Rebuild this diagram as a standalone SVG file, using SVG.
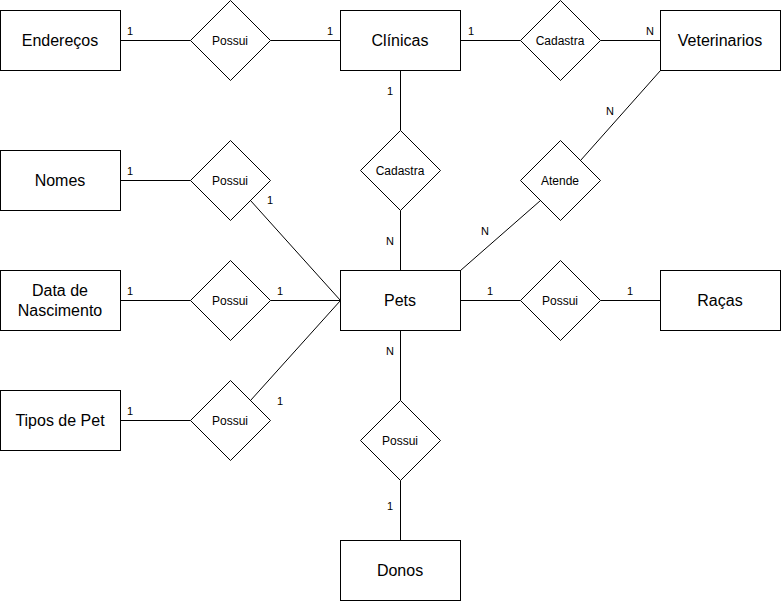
<svg xmlns="http://www.w3.org/2000/svg" width="781" height="601" viewBox="0 0 781 601">
<style>
.ent{fill:#fff;stroke:#000;stroke-width:1}
.rel{fill:#fff;stroke:#000;stroke-width:1}
.c{fill:none;stroke:#000;stroke-width:1}
.et{font-family:"Liberation Sans",Arial,sans-serif;font-size:16px;fill:#000;text-anchor:middle;dominant-baseline:central}
.rt{font-family:"Liberation Sans",Arial,sans-serif;font-size:12px;fill:#000;text-anchor:middle;dominant-baseline:central}
.lb{font-family:"Liberation Sans",Arial,sans-serif;font-size:11px;fill:#000;text-anchor:middle;dominant-baseline:central}
</style>
<rect width="781" height="601" fill="#fff"/>
<g id="connectors">
<path class="c" d="M120.5 40.5H190.5"/>
<path class="c" d="M270.5 40.5H340.5"/>
<path class="c" d="M460.5 40.5H520.5"/>
<path class="c" d="M600.5 40.5H660.5"/>
<path class="c" d="M400.5 70.5V130.5"/>
<path class="c" d="M400.5 210.5V270.5"/>
<path class="c" d="M120.5 180.5H190.5"/>
<path class="c" d="M250.5 200.5L340.5 300.5"/>
<path class="c" d="M120.5 300.5H190.5"/>
<path class="c" d="M270.5 300.5H340.5"/>
<path class="c" d="M120.5 420.5H190.5"/>
<path class="c" d="M250.5 400.5L340.5 300.5"/>
<path class="c" d="M580.5 160.5L660.5 70.5"/>
<path class="c" d="M540.5 200.5L460.5 270.5"/>
<path class="c" d="M460.5 300.5H520.5"/>
<path class="c" d="M600.5 300.5H660.5"/>
<path class="c" d="M400.5 330.5V400.5"/>
<path class="c" d="M400.5 480.5V540.5"/>
<text class="lb" x="130" y="31">1</text>
<text class="lb" x="330" y="31">1</text>
<text class="lb" x="471" y="31">1</text>
<text class="lb" x="650" y="31">N</text>
<text class="lb" x="390" y="91">1</text>
<text class="lb" x="390" y="241">N</text>
<text class="lb" x="130" y="171">1</text>
<text class="lb" x="270" y="200">1</text>
<text class="lb" x="130" y="291">1</text>
<text class="lb" x="280" y="291">1</text>
<text class="lb" x="130" y="411">1</text>
<text class="lb" x="280" y="401">1</text>
<text class="lb" x="610" y="111">N</text>
<text class="lb" x="485" y="231">N</text>
<text class="lb" x="490" y="291">1</text>
<text class="lb" x="630" y="291">1</text>
<text class="lb" x="390" y="351">N</text>
<text class="lb" x="390" y="506">1</text>
</g>
<g id="enderecos"><rect class="ent" x="0.5" y="10.5" width="120" height="60"/><text class="et" x="60" y="40">Endereços</text></g>
<g id="clinicas"><rect class="ent" x="340.5" y="10.5" width="120" height="60"/><text class="et" x="400" y="40">Clínicas</text></g>
<g id="veterinarios"><rect class="ent" x="660.5" y="10.5" width="120" height="60"/><text class="et" x="720" y="40">Veterinarios</text></g>
<g id="nomes"><rect class="ent" x="0.5" y="150.5" width="120" height="60"/><text class="et" x="60" y="180">Nomes</text></g>
<g id="data"><rect class="ent" x="0.5" y="270.5" width="120" height="60"/><text class="et" x="60" y="290">Data de</text><text class="et" x="60" y="310">Nascimento</text></g>
<g id="tipos"><rect class="ent" x="0.5" y="390.5" width="120" height="60"/><text class="et" x="60" y="420">Tipos de Pet</text></g>
<g id="pets"><rect class="ent" x="340.5" y="270.5" width="120" height="60"/><text class="et" x="400" y="300">Pets</text></g>
<g id="racas"><rect class="ent" x="660.5" y="270.5" width="120" height="60"/><text class="et" x="720" y="300">Raças</text></g>
<g id="donos"><rect class="ent" x="340.5" y="540.5" width="120" height="60"/><text class="et" x="400" y="570">Donos</text></g>
<g id="possui-end"><path class="rel" d="M230.5 0.5L270.5 40.5L230.5 80.5L190.5 40.5Z"/><text class="rt" x="230" y="41">Possui</text></g>
<g id="cadastra-vet"><path class="rel" d="M560.5 0.5L600.5 40.5L560.5 80.5L520.5 40.5Z"/><text class="rt" x="560" y="41">Cadastra</text></g>
<g id="cadastra-pet"><path class="rel" d="M400.5 130.5L440.5 170.5L400.5 210.5L360.5 170.5Z"/><text class="rt" x="400" y="171">Cadastra</text></g>
<g id="atende"><path class="rel" d="M560.5 140.5L600.5 180.5L560.5 220.5L520.5 180.5Z"/><text class="rt" x="560" y="181">Atende</text></g>
<g id="possui-nomes"><path class="rel" d="M230.5 140.5L270.5 180.5L230.5 220.5L190.5 180.5Z"/><text class="rt" x="230" y="181">Possui</text></g>
<g id="possui-data"><path class="rel" d="M230.5 260.5L270.5 300.5L230.5 340.5L190.5 300.5Z"/><text class="rt" x="230" y="301">Possui</text></g>
<g id="possui-tipos"><path class="rel" d="M230.5 380.5L270.5 420.5L230.5 460.5L190.5 420.5Z"/><text class="rt" x="230" y="421">Possui</text></g>
<g id="possui-racas"><path class="rel" d="M560.5 260.5L600.5 300.5L560.5 340.5L520.5 300.5Z"/><text class="rt" x="560" y="301">Possui</text></g>
<g id="possui-donos"><path class="rel" d="M400.5 400.5L440.5 440.5L400.5 480.5L360.5 440.5Z"/><text class="rt" x="400" y="441">Possui</text></g>
</svg>
